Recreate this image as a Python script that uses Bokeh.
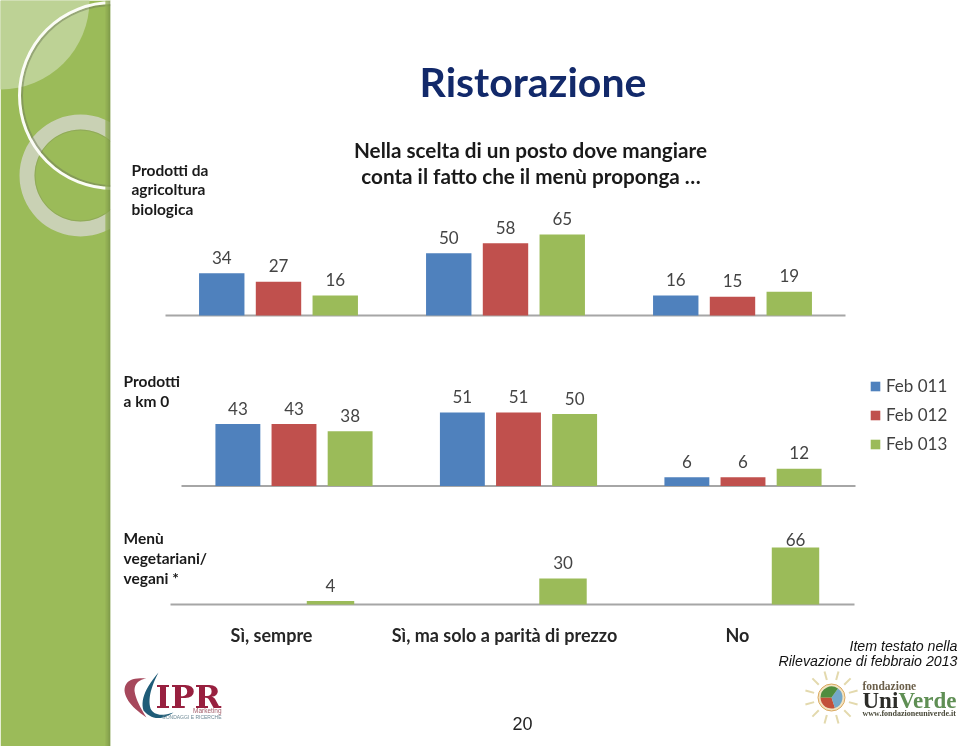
from bokeh.embed import file_html
from bokeh.resources import INLINE
from bokeh.plotting import figure
from bokeh.models import Range1d, Legend, LegendItem, ColumnDataSource
from bokeh.core.properties import value
import numpy as np

# ---------- data ----------
series = ["Feb 011", "Feb 012", "Feb 013"]
colors = ["#4f81bd", "#c0504d", "#9bbb59"]
groups = ["Sì, sempre", "Sì, ma solo a parità di prezzo", "No"]
bio_2011 = [34, 50, 16]
bio_2012 = [27, 58, 15]
bio_2013 = [16, 65, 19]
km0_2011 = [43, 51, 6]
km0_2012 = [43, 51, 6]
km0_2013 = [38, 50, 12]
veg_2013 = [4, 30, 66]

W, H = 960, 746
p = figure(width=W, height=H, output_backend="svg", toolbar_location=None,
           x_range=Range1d(0, W), y_range=Range1d(H, 0), min_border=0,
           outline_line_color=None, background_fill_color="white")
p.axis.visible = False
p.grid.visible = False
p.styles = {"position": "fixed", "left": "0px", "top": "0px"}


def add_text(x, y, s, size, color="#1a1a1a", style="normal", font="Lato", align="left", **kw):
    p.text([x], [y], text=[s], text_font=value(font), text_font_size=f"{size}px",
           text_font_style=style, text_color=color, text_align=align,
           text_baseline="middle", **kw)


def bez(pts, n=14):
    """Sample a quadratic curve through decoration control points."""
    (a, b, c) = [np.array(q, float) for q in pts]
    t = np.linspace(0, 1, n)[:, None]
    return (1 - t) ** 2 * a + 2 * t * (1 - t) * b + t ** 2 * c


# ---------- sidebar decoration ----------
p.quad(left=[0], right=[110], top=[0], bottom=[H], fill_color="#9bbb59", line_color=None)
p.circle([0], [0], radius=89, fill_color="#bdd295", line_color=None)
p.annulus([80], [175], inner_radius=46, outer_radius=61, fill_color="#c9d1b4", line_color=None)
p.circle([80], [175], radius=45.5, fill_color=None, line_color="#7f8f5a", line_alpha=0.4, line_width=1)
p.circle([112], [95], radius=90.5, fill_color=None, line_color="#6f7a5a", line_alpha=0.5, line_width=2)
p.circle([112], [95], radius=93, fill_color=None, line_color="#fbfcf6", line_width=3)
for i, c in enumerate(["#93b055", "#8ea952", "#88a34e", "#7f994a", "#768f45"]):
    p.quad(left=[105 + i], right=[106 + i], top=[0], bottom=[H], fill_color=c, line_color=None)
p.quad(left=[110], right=[W], top=[0], bottom=[H], fill_color="white", line_color=None)

# ---------- headings ----------
add_text(532.5, 81, "Ristorazione", 41, color="#12296a", style="bold", align="center")
add_text(530, 149, "Nella scelta di un posto dove mangiare", 20.7, style="bold", align="center")
add_text(530.5, 175.5, "conta il fatto che il menù proponga …", 20.7, style="bold", align="center")

for y, s in zip([169, 188, 208], ["Prodotti da", "agricoltura", "biologica"]):
    add_text(131, y, s, 15.5, style="bold")
for y, s in zip([380, 400], ["Prodotti", "a km 0"]):
    add_text(123, y, s, 15.5, style="bold")
for y, s in zip([537, 557, 577], ["Menù", "vegetariani/", "vegani *"]):
    add_text(123, y, s, 15.5, style="bold")


# ---------- charts ----------
def panel(name, base, scale, centre, step, left, right, rows, width=0.2):
    p.extra_y_ranges[name] = Range1d((base - H) / scale, base / scale)
    p.extra_x_ranges[name] = Range1d(-centre / step, (W - centre) / step)
    p.segment([left], [0], [right], [0], x_range_name="default", y_range_name=name,
              line_color="#a6a6a6", line_width=2)
    out = {}
    for vals, color, off, label in rows:
        x = [g + off for g in range(len(vals))]
        src = ColumnDataSource(dict(x=x, top=vals, s=[str(v) for v in vals],
                                    yo=[-8 if v == 66 else -16 for v in vals]))
        out[label] = p.vbar(x="x", top="top", bottom=0, width=width, source=src, fill_color=color,
                            line_color=None, x_range_name=name, y_range_name=name)
        p.text(x="x", y="top", text="s", source=src, x_range_name=name, y_range_name=name,
               y_offset="yo", text_font=value("Lato"), text_font_size="17px", text_color="#444444",
               text_align="center", text_baseline="middle")
    return out


rend = panel("bio", 315, 1.246, 278, 227, 165, 845,
             [(bio_2011, colors[0], -0.25, series[0]),
              (bio_2012, colors[1], 0, series[1]),
              (bio_2013, colors[2], 0.25, series[2])])
panel("km0", 485.5, 1.44, 293.5, 224.5, 181, 855,
      [(km0_2011, colors[0], -0.25, series[0]),
       (km0_2012, colors[1], 0, series[1]),
       (km0_2013, colors[2], 0.25, series[2])])
panel("veg", 604, 0.864, 330, 232.5, 170, 854,
      [(veg_2013, colors[2], 0, series[2])], width=0.204)

# group labels
p.extra_x_ranges["lab"] = Range1d(-271 / 233, (W - 271) / 233)
p.text(x=list(range(len(groups))), y=[634.5] * 3, text=groups, x_range_name="lab",
       text_font=value("Lato"), text_font_size="18px", text_font_style="bold",
       text_color="#262626", text_align="center", text_baseline="middle")

# legend
legend = Legend(items=[LegendItem(label=s, renderers=[rend[s]]) for s in series],
                location=(869, H - 454), orientation="vertical", background_fill_alpha=0,
                border_line_color=None, glyph_width=12, glyph_height=12, label_height=20,
                spacing=8, padding=0, margin=10, label_standoff=5,
                label_text_font="Lato", label_text_font_size="17px", label_text_color="#404040")
p.add_layout(legend, "center")

# ---------- footer ----------
add_text(957, 645, "Item testato nella", 14.2, color="#111111", style="italic",
         font="Liberation Sans", align="right")
add_text(957, 660, "Rilevazione di febbraio 2013", 14.2, color="#111111", style="italic",
         font="Liberation Sans", align="right")
add_text(522, 723, "20", 18, color="#222222", font="Liberation Sans", align="center")

# IPR logo
red_outer = np.vstack([bez([(146, 678), (124, 676), (124, 690)]), bez([(124, 690), (125, 703), (146, 717)])])
red_inner = np.vstack([bez([(146, 717), (135, 700), (134, 690)]), bez([(134, 690), (134, 680), (146, 678)])])
pts = np.vstack([red_outer, red_inner])
p.patch(pts[:, 0], pts[:, 1], fill_color="#a6485c", line_color=None)
blue_outer = np.vstack([bez([(158, 672), (138, 695), (143, 710)]), bez([(143, 710), (155, 724), (173, 712)])])
blue_inner = np.vstack([bez([(173, 712), (155, 718), (150, 708)]), bez([(150, 708), (146, 695), (158, 672)])])
pts = np.vstack([blue_outer, blue_inner])
p.patch(pts[:, 0], pts[:, 1], fill_color="#1f5c78", line_color=None)
add_text(155, 696, "IPR", 32, color="#98203f", style="bold", font="DejaVu Serif")
add_text(221, 710, "Marketing", 6.5, color="#a4606c", align="right", font="Liberation Sans")
add_text(221, 716, "SONDAGGI E RICERCHE", 5, color="#6f8a96", align="right", font="Liberation Sans")

# UniVerde logo
cx, cy = 831, 697
ang = np.deg2rad(np.arange(0, 360, 30) + 15)
p.segment(cx + 18 * np.cos(ang), cy + 18 * np.sin(ang), cx + 27 * np.cos(ang), cy + 27 * np.sin(ang),
          line_color="#e3d9ad", line_width=2)
p.circle([cx], [cy], radius=13.5, fill_color="#f3e3c0", line_color="#d9a860", line_width=1)
p.wedge([cx], [cy], radius=11, start_angle=[np.pi], end_angle=[1.6 * np.pi], fill_color="#c2503a", line_color=None)
p.wedge([cx], [cy], radius=11, start_angle=[1.6 * np.pi], end_angle=[2.3 * np.pi], fill_color="#74a8c9", line_color=None)
p.wedge([cx], [cy], radius=11, start_angle=[0.3 * np.pi], end_angle=[np.pi], fill_color="#4f8d3f", line_color=None)
add_text(862, 685, "fondazione", 11.5, color="#6b5f4a", style="bold", font="Liberation Serif")
add_text(862, 700, "Uni", 23, color="#2c2c28", style="bold", font="Liberation Serif")
add_text(898, 700, "Verde", 23, color="#5f8f54", style="bold", font="Liberation Serif")
add_text(862, 713, "www.fondazioneuniverde.it", 8, color="#4a4a3a", style="bold", font="Liberation Serif")

open("out.html", "w").write(file_html(p, INLINE))
